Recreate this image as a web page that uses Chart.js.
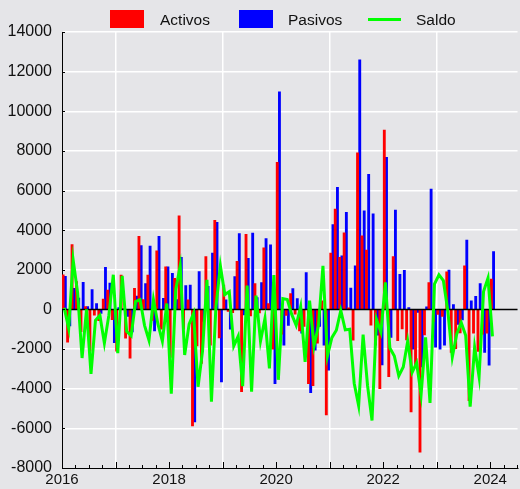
<!DOCTYPE html>
<html lang="es">
<head>
<meta charset="UTF-8">
<title>Activos, Pasivos y Saldo</title>
<script src="https://cdn.jsdelivr.net/npm/chart.js"></script>
<style>
  body { margin: 0; background: #e5e5e8; font-family: "Liberation Sans", Arial, sans-serif; }
  .wrap { position: relative; width: 520px; height: 489px; }
  .box { position: absolute; top: 10px; width: 34px; height: 18px; }
  .txt { position: absolute; top: 10px; font-size: 15.5px; line-height: 20px; color: #111; }
  .ln { position: absolute; top: 18px; width: 33px; height: 3px; background: #00ff00; }
</style>
</head>
<body>
<div class="wrap">
  <canvas id="grafico" width="520" height="489"></canvas>
  <!-- leyenda -->
  <div class="box" style="left:110px;background:#ff0000"></div>
  <div class="txt" style="left:160px">Activos</div>
  <div class="box" style="left:239px;background:#0000ff"></div>
  <div class="txt" style="left:288px">Pasivos</div>
  <div class="ln" style="left:368px"></div>
  <div class="txt" style="left:416px">Saldo</div>
</div>
<script>
// meses desde enero 2016 hasta enero 2024
const startYear = 2016;
const activos = [
  1750, -1650, 3270, 1410, -1120, 150, -2100, -290, -560, 520, 980, -520,
  -2100, 1730, -1450, -2460, 1060, 3690, 500, 1730, -550, 2960, -1000, 2150,
  -2420, 1570, 4730, -1000, 490, -5880, -1840, -2720, 2670, -1800, 4500, -1440,
  1230, -100, -160, 2430, -4150, 3790, -330, 1300, -180, 3110, 300, -2000,
  7420, -1250, -300, 800, -240, -1080, -850, -3750, -3850, -1700, 440, -5320,
  2850, 5070, 2630, 3870, 80, -1550, 7900, 3720, 3000, -790, -1800, -4000,
  9050, -3390, 2670, -1580, -980, -1540, -5170, -2850, -7200, -1290, 1360, -600,
  -250, -350, 1900, -2170, -1980, -1190, 2200, -4600, -1200, -2120, -1250, -1200,
  1530
];
const pasivos = [
  1670, -830, 1070, 570, 1370, 150, 1000, 300, -200, 2120, 1330, -1670,
  100, 50, -350, -1130, 670, 3220, 1310, 3200, -1080, 3690, 560, 2150,
  1820, 500, 2630, 1200, 1230, -5670, 1910, -600, 1170, 2850, 4390, -3660,
  480, -1000, 1660, 3830, -280, 2580, 3850, 600, 1360, 3580, 3260, -3750,
  10980, -1800, -800, 1050, 550, -1200, 1860, -4200, -2050, -860, -1800, -3060,
  4280, 6160, 2710, 4900, 1080, 2200, 12600, 4980, 6820, 4830, -1300, -2800,
  7670, -1410, 5020, 1770, 1970, 90, -2000, -150, -2900, 130, 6080, -1900,
  -2000, -1800, 1990, 240, -750, -530, 3500, 440, 660, 1310, -2170, -2810,
  2920
];
const saldo = [
  80, -950, 2500, 850, -2450, 0, -3250, -550, -300, -1700, -300, 1750,
  -2200, 1700, -1100, -1330, 400, 500, -800, -1550, 500, -730, -1600, 300,
  -4250, 1000, 2200, -2300, -740, -200, -3900, -2100, 1500, -4650, 100, 2200,
  750, 900, -1850, -1350, -3870, 1200, -4150, 700, -1600, -450, -2970, 1740,
  -3550, 550, 500, -250, -800, 150, -2650, 450, -1850, -800, 2200, -2350,
  -1420, -1050, -50, -1030, -1000, -3720, -4850, -1270, -3850, -5600, -500, -1150,
  1370, -1950, -2350, -3350, -2900, -1600, -3170, -2700, -4300, -1410, -4720, 1280,
  1750, 1450, -90, -2400, -1230, -660, -1320, -4900, -1900, -3400, 900, 1580,
  -1360
];
const yearLabels = [2016, 2018, 2020, 2022, 2024];

// cada mes se coloca a mitad de mes
const fechas = activos.map((_, i) => startYear + (i + 0.5) / 12);
const puntos = vals => vals.map((v, i) => ({ x: fechas[i], y: v }));

const fondo = '#e5e5e8';
const fuente = '"Liberation Sans", Arial, sans-serif';

const extras = {
  id: 'extras',
  beforeDraw(chart) {
    const ctx = chart.ctx;
    ctx.save();
    ctx.fillStyle = fondo;
    ctx.fillRect(0, 0, chart.width, chart.height);
    ctx.restore();
  },
  beforeDatasetDraw(chart, args) {
    // linea de cero por encima de las barras, debajo del saldo
    if (args.index !== 2) return;
    const { ctx, chartArea, scales } = chart;
    const y0 = scales.y.getPixelForValue(0);
    ctx.save();
    ctx.strokeStyle = '#000';
    ctx.lineWidth = 1.5;
    ctx.beginPath();
    ctx.moveTo(chartArea.left, y0);
    ctx.lineTo(chartArea.right, y0);
    ctx.stroke();
    ctx.restore();
  },
  afterDraw(chart) {
    const { ctx, chartArea, scales } = chart;
    ctx.save();
    ctx.strokeStyle = '#000';
    ctx.lineWidth = 1;
    ctx.beginPath();
    // marcas trimestrales en el eje x, hacia dentro
    for (let q = 0; q <= 34; q++) {
      const v = startYear + q / 4;
      const px = Math.round(scales.x.getPixelForValue(v)) + 0.5;
      const len = q % 4 === 0 ? 6 : 3;
      ctx.moveTo(px, chartArea.bottom);
      ctx.lineTo(px, chartArea.bottom - len);
    }
    // marcas del eje y
    scales.y.ticks.forEach(t => {
      const py = Math.round(scales.y.getPixelForValue(t.value)) + 0.5;
      ctx.moveTo(chartArea.left, py);
      ctx.lineTo(chartArea.left + 3, py);
    });
    ctx.stroke();
    ctx.restore();
  }
};

new Chart(document.getElementById('grafico'), {
  type: 'bar',
  data: {
    datasets: [
      {
        label: 'Activos',
        data: puntos(activos),
        backgroundColor: '#ff0000',
        barThickness: 2.2,
        order: 1
      },
      {
        label: 'Pasivos',
        data: puntos(pasivos),
        backgroundColor: '#0000ff',
        barThickness: 2.2,
        order: 2
      },
      {
        type: 'line',
        label: 'Saldo',
        data: puntos(saldo),
        borderColor: '#00ff00',
        borderWidth: 3,
        pointRadius: 0,
        tension: 0,
        order: 0
      }
    ]
  },
  options: {
    responsive: false,
    animation: false,
    layout: { padding: { top: 32, right: 0, left: 0, bottom: 0 } },
    plugins: {
      legend: { display: false },
      tooltip: { enabled: false }
    },
    scales: {
      x: {
        type: 'linear',
        offset: false,
        min: 2016,
        max: 2024.51,
        afterFit(scale) { scale.height = 21; },
        ticks: {
          stepSize: 0.25,
          autoSkip: false,
          maxRotation: 0,
          includeBounds: false,
          padding: 3,
          color: '#111',
          font: { family: fuente, size: 15 },
          callback: v => {
            const r = Math.round(v);
            return Math.abs(v - r) < 1e-6 && yearLabels.includes(r) ? String(r) : '';
          }
        },
        grid: {
          offset: false,
          drawTicks: false,
          lineWidth: 1.5,
          color: ctx => {
            const v = ctx.tick ? ctx.tick.value : 0;
            const r = Math.round(v);
            return Math.abs(v - r) < 1e-6 && r % 2 === 1 ? '#ffffff' : 'rgba(0,0,0,0)';
          }
        },
        border: { color: '#000', width: 1 }
      },
      y: {
        min: -8000,
        max: 14000,
        afterFit(scale) { scale.width = 62; },
        ticks: {
          stepSize: 2000,
          padding: 10,
          color: '#111',
          font: { family: fuente, size: 16 },
          callback: v => String(v)
        },
        grid: {
          drawTicks: false,
          lineWidth: 1.5,
          color: ctx => {
            const v = ctx.tick ? ctx.tick.value : 0;
            return v === 0 || v === -8000 ? 'rgba(0,0,0,0)' : '#ffffff';
          }
        },
        border: { color: '#000', width: 1 }
      }
    }
  },
  plugins: [extras]
});
</script>
</body>
</html>
